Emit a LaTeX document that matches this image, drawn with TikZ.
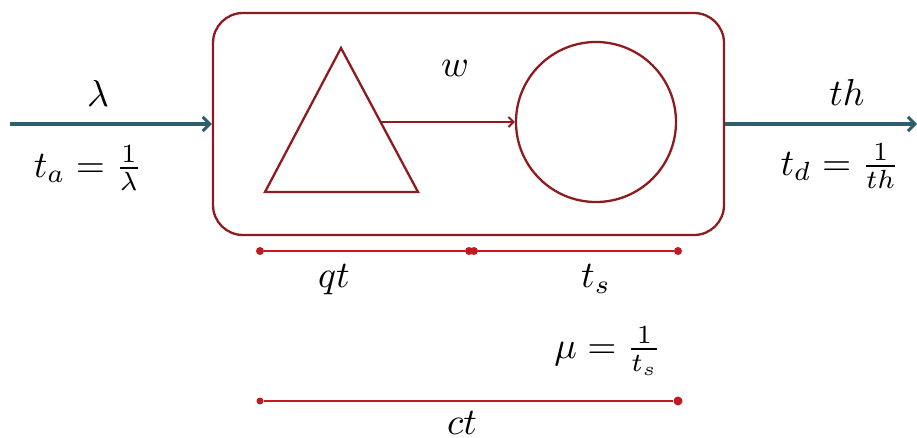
\documentclass[tikz,border=0pt]{standalone}
\usepackage{graphicx}
\usetikzlibrary{arrows.meta}
\definecolor{boxred}{HTML}{8E1B1F}
\definecolor{dimred}{HTML}{C01A22}
\definecolor{teal}{HTML}{2F5F6B}
\newcommand\mylbl[1]{\scalebox{3.75}{$#1$}}
\begin{document}
\begin{tikzpicture}[x=1pt,y=-1pt,
  lbl/.style={inner sep=0pt},
  part/.style={draw=boxred, line width=2.3pt},
  flow/.style={draw=teal, line width=3.2pt, -{Straight Barb[length=7pt,width=14pt,line width=3pt]}},
  dimline/.style={draw=dimred, line width=1.8pt},
  dimdot/.style={circle, fill=dimred, inner sep=0pt, minimum size=8pt}]
\useasboundingbox (0,0) rectangle (917,438);
\node[part, rounded corners=30pt, minimum width=511pt, minimum height=222pt, inner sep=0pt] (box) at (468.5,124) {};
% triangle (queue)
\coordinate (ta) at (341,48);
\coordinate (tl) at (265,192);
\coordinate (tr) at (418,192);
\draw[part, line join=miter] (ta) -- (tl) -- (tr) -- cycle;
\coordinate (tq) at (380,122);
% circle (server)
\node[part, circle, minimum size=160pt, inner sep=0pt] (srv) at (596,122) {};
\draw[draw=boxred, line width=2pt, -{Straight Barb[length=5pt,width=10pt,line width=2pt]}] (tq) -- (srv.west);
\node[lbl] (w) at (455,68) {\mylbl{w}};
% input / output
\coordinate (in) at (10,124);
\coordinate (out) at (917,124);
\draw[flow] (in) -- (box.west);
\draw[flow] (box.east) -- (out);
\node[lbl] (lam) at (98,93) {\mylbl{\lambda}};
\node[lbl] (ta1) at (88,168) {\mylbl{t_a=\frac{1}{\lambda}}};
\node[lbl] (th) at (847,92) {\mylbl{th}};
\node[lbl] (td) at (840,166) {\mylbl{t_d=\frac{1}{th}}};
% dimension lines
\node[dimdot] (d1) at (260,251) {};
\node[dimdot] (d2) at (469,251) {};
\node[dimdot] (d3) at (474,251) {};
\node[dimdot] (d4) at (678,251) {};
\draw[dimline] (d1) -- (d2);
\draw[dimline] (d3) -- (d4);
\node[lbl] (qt) at (334,280) {\mylbl{qt}};
\node[lbl] (ts) at (596,279) {\mylbl{t_s}};
\node[lbl] (mu) at (608,351) {\mylbl{\mu=\frac{1}{t_s}}};
\node[dimdot, minimum size=7pt] (c1) at (260,401) {};
\node[dimdot, minimum size=9pt] (c2) at (678,401) {};
\draw[dimline] (c1) -- (c2);
\node[lbl] (ct) at (462,423) {\mylbl{ct}};
\end{tikzpicture}
\end{document}
